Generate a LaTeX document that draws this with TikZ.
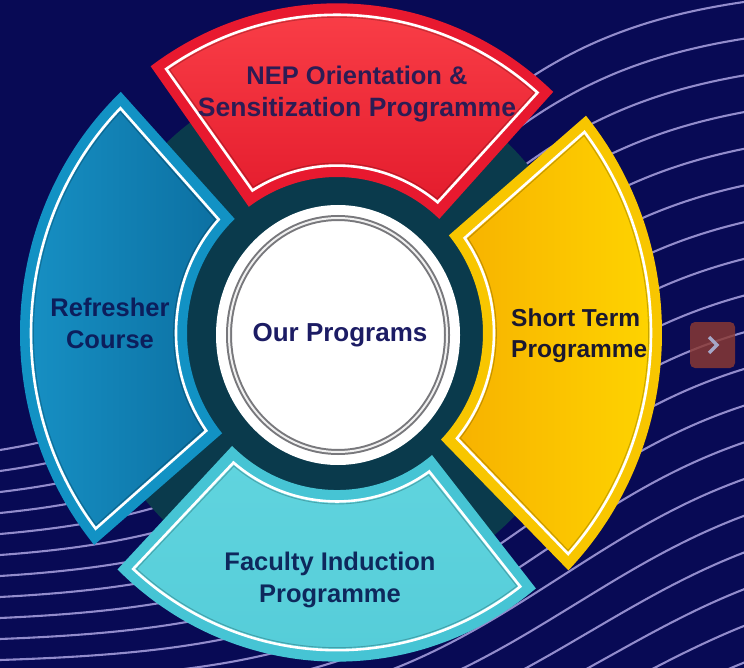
\documentclass[tikz,border=0pt]{standalone}
\usepackage{fontspec}
\setmainfont{Liberation Sans}
\definecolor{bgnavy}{RGB}{8,10,85}
\definecolor{wavec}{RGB}{146,140,204}
\definecolor{ringteal}{RGB}{10,58,76}
\definecolor{redband}{RGB}{232,25,47}
\definecolor{redtop}{RGB}{252,66,74}
\definecolor{redbot}{RGB}{228,28,45}
\definecolor{blueband}{RGB}{18,146,196}
\definecolor{blueleft}{RGB}{24,148,200}
\definecolor{blueright}{RGB}{12,112,162}
\definecolor{yelband}{RGB}{248,198,0}
\definecolor{yelleft}{RGB}{247,178,0}
\definecolor{yelright}{RGB}{255,216,0}
\definecolor{cyanband}{RGB}{70,196,212}
\definecolor{cyantop}{RGB}{96,212,222}
\definecolor{cyanbot}{RGB}{84,204,216}
\definecolor{redtxt}{RGB}{44,28,84}
\definecolor{bluetxt}{RGB}{12,30,92}
\definecolor{yeltxt}{RGB}{26,24,48}
\definecolor{cyantxt}{RGB}{14,40,92}
\definecolor{centtxt}{RGB}{28,28,100}
\definecolor{ringgray}{RGB}{120,120,124}
\definecolor{btn}{RGB}{140,58,50}
\definecolor{chev}{RGB}{165,167,200}
\newcommand\segInset[5]{%
  \pgfmathsetmacro\sgRo{#4-#5}\pgfmathsetmacro\sgRi{#3+#5}%
  \pgfmathsetmacro\sgA{#1+#5/\sgRo*57.3}\pgfmathsetmacro\sgB{#2-#5/\sgRo*57.3}%
  \pgfmathsetmacro\sgC{#1+1.1*#5/\sgRi*57.3}\pgfmathsetmacro\sgD{#2-1.1*#5/\sgRi*57.3}}
\newcommand\segStroke[1]{\path[#1] (\sgA:\sgRo) arc[start angle=\sgA, end angle=\sgB, radius=\sgRo] -- (\sgD:\sgRi) arc[start angle=\sgD, end angle=\sgC, radius=\sgRi] -- cycle;}
\newcommand\drawSegment[6]{%
  \fill[#5] (#1:#4) arc[start angle=#1, end angle=#2, radius=#4] -- (#2:#3) arc[start angle=#2, end angle=#1, radius=#3] -- cycle;
  \segInset{#1}{#2}{#3}{#4}{11}%
  \segStroke{#6}%
  \segStroke{draw=white, line width=2.6pt, line join=miter}%
  \segInset{#1}{#2}{#3}{#4}{13.4}%
  \segStroke{draw=black, draw opacity=0.22, line width=0.9pt}%
}
\begin{document}
\begin{tikzpicture}[x=1pt, y=-1pt,
  wave/.style={draw=wavec, line width=2.1pt},
  lbl/.style={font=\fontsize{25.5}{32}\selectfont\bfseries, align=center, inner sep=0pt}]
\useasboundingbox (0,0) rectangle (744,668);
\fill[bgnavy] (0,0) rectangle (744,668);
% flowing background lines
\begin{scope}
  \clip (0,0) rectangle (744,668);
  \foreach \k in {0,...,19}{
    \pgfmathsetmacro\yL{450+21*\k}
    \pgfmathsetmacro\yR{2+36.7*\k}
    \pgfmathsetmacro\xc{365+15*\k}
    \pgfmathsetmacro\wd{230}
    \pgfmathsetmacro\Tl{1-tanh((0-\xc)/\wd)}
    \pgfmathsetmacro\Tr{1-tanh((744-\xc)/\wd)}
    \draw[wave] plot[smooth, samples=45, domain=-10:754, variable=\x]
      (\x, {\yR + (\yL-\yR)*((1-tanh((\x-\xc)/\wd))-\Tr)/(\Tl-\Tr)});
  }
\end{scope}
% ring and segments
\begin{scope}[shift={(337,333)}, yscale=1.04]
  \fill[ringteal] (0,0) circle[radius=250];
  \drawSegment{-126}{-47}{150}{317}{redband}{top color=redtop, bottom color=redbot}
  \drawSegment{-40}{44.6}{146}{325}{yelband}{left color=yelleft, right color=yelright}
  \drawSegment{51}{134}{151}{316}{cyanband}{top color=cyantop, bottom color=cyanbot}
  \drawSegment{140}{227}{150}{317}{blueband}{left color=blueleft, right color=blueright}
\end{scope}
% centre disc
\fill[white] (338,335) ellipse[x radius=122, y radius=130];
\draw[ringgray, line width=6pt] (338,335) ellipse[x radius=109, y radius=117];
\draw[white!88!gray, line width=2pt] (338,335) ellipse[x radius=109, y radius=117];
% labels
\node[lbl, text=redtxt] (nep) at (357,94) {NEP Orientation \&\\{\fontsize{26.5}{32}\selectfont Sensitization Programme}};
\node[lbl, text=bluetxt] (refresher) at (110,323) {Refresher\\Course};
\node[lbl, text=yeltxt, align=left, anchor=west, font=\fontsize{24.5}{31}\selectfont\bfseries] (short) at (511,336) {Short Term\\Programme};
\node[lbl, text=cyantxt] (faculty) at (330,580) {Faculty Induction\\Programme};
\node[lbl, text=centtxt, font=\fontsize{26}{32}\selectfont\bfseries] (centre) at (340,335) {Our Programs};
% next button
\node[fill=btn, fill opacity=0.82, rounded corners=5pt, minimum width=45pt, minimum height=46pt, inner sep=0pt] (next) at (712.5,345) {};
\draw[chev, line width=3.4pt] ([xshift=-3.5pt, yshift=8pt]next.center) -- ([xshift=4.5pt]next.center) -- ([xshift=-3.5pt, yshift=-8pt]next.center);
\end{tikzpicture}
\end{document}
